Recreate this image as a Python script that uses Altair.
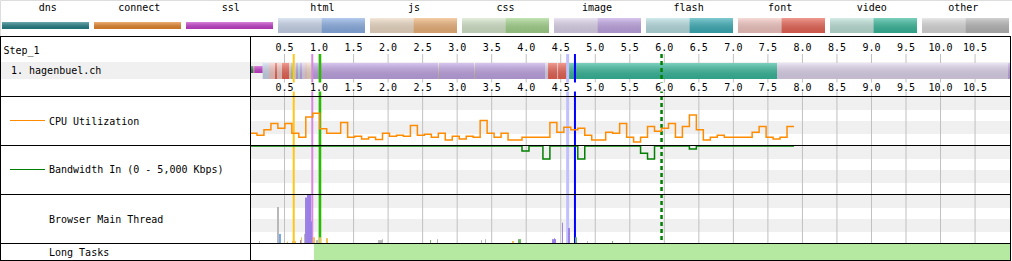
import altair as alt
import pandas as pd

FONT = "DejaVu Sans Mono"

# ---------------- data ----------------
legend_types = ["dns", "connect", "ssl", "html", "js", "css", "image", "flash", "font", "video", "other"]
solid_types = ["dns", "connect", "ssl"]

tick_times = [0.5, 1.0, 1.5, 2.0, 2.5, 3.0, 3.5, 4.0, 4.5, 5.0, 5.5, 6.0, 6.5, 7.0, 7.5, 8.0, 8.5, 9.0, 9.5, 10.0, 10.5]
tick_labels = ["0.5", "1.0", "1.5", "2.0", "2.5", "3.0", "3.5", "4.0", "4.5", "5.0", "5.5", "6.0", "6.5", "7.0", "7.5", "8.0", "8.5", "9.0", "9.5", "10.0", "10.5"]

step_name = "Step_1"
request_name = "1. hagenbuel.ch"

phase_names = ["dns", "connect", "ssl"]
phase_start = [0.0, 0.048, 0.062]
phase_end = [0.048, 0.062, 0.184]

seg_start = [0.184, 0.275, 0.362, 0.391, 0.463, 0.565, 0.594, 0.623, 0.666, 0.695, 0.724, 0.753, 0.797, 0.825,
             0.898, 2.723, 3.244, 4.272, 4.316, 4.446, 4.461, 4.591, 7.632, 10.978]
seg_end = [0.275, 0.362, 0.391, 0.463, 0.565, 0.594, 0.623, 0.666, 0.695, 0.724, 0.753, 0.797, 0.825, 0.898,
           4.272, 2.737, 3.258, 4.316, 4.446, 4.461, 4.591, 7.632, 10.978, 11.006]
seg_type = ["html", "font", "font", "font", "font", "font", "css", "image", "image", "flash", "image", "image", "font", "js",
            "image", "js", "js", "image", "font", "font", "font", "video", "image", "image"]
seg_part = ["light", "light", "dark", "light", "dark", "light", "dark", "light", "dark", "light", "dark", "light", "light", "light",
            "dark", "light", "light", "light", "dark", "light", "dark", "dark", "light", "dark"]

marker_names = ["dom_interactive", "dom_content_loaded", "start_render", "on_load", "doc_complete", "lcp"]
marker_times = [0.633, 0.902, 1.014, 4.600, 4.706, 5.960]

cpu_step = 0.101
cpu_values = [24, 20, 31, 44, 34, 44, 24, 16, 57, 65, 33, 24, 24, 46, 16, 18, 12, 16, 11, 24,
              18, 20, 18, 40, 20, 22, 16, 24, 10, 18, 12, 18, 16, 50, 24, 16, 24, 10, 10, 16,
              16, 16, 16, 46, 26, 36, 31, 34, 20, 10, 10, 26, 24, 44, 16, 6, 16, 38, 28, 34,
              44, 16, 38, 61, 31, 10, 16, 20, 16, 16, 16, 16, 26, 38, 16, 12, 16, 38]
bw_values = [4900, 4900, 4900, 4900, 4900, 4900, 4900, 4900, 4900, 4900, 4900, 4900, 4900, 4900, 4900, 4900, 4900, 4900, 4900, 4900,
             4900, 4900, 4900, 4900, 4900, 4900, 4900, 4900, 4900, 4900, 4900, 4900, 4900, 4900, 4900, 4900, 4900, 4900, 4900, 4390,
             4900, 4900, 3570, 4900, 4900, 4900, 4900, 3570, 4900, 4900, 4900, 4900, 4900, 4900, 4900, 4900, 4150, 3570, 4900, 4900,
             4900, 4900, 4900, 4590, 4900, 4900, 4900, 4900, 4900, 4900, 4900, 4900, 4900, 4900, 4900, 4900, 4900, 4900]

mt_start = [0.130, 0.391, 0.420, 0.536, 0.608, 0.724, 0.738, 0.782, 0.797, 0.825, 0.883, 0.912, 0.955, 1.000, 1.100,
            1.854, 1.912, 2.607, 2.708, 3.345, 3.403, 3.794, 3.881, 4.374, 4.403, 4.519, 4.606, 4.707, 4.880, 5.243]
mt_end = [0.145, 0.420, 0.449, 0.550, 0.666, 0.753, 0.753, 0.797, 0.825, 0.883, 0.898, 0.941, 0.985, 1.030, 1.130,
          1.912, 1.926, 2.621, 2.723, 3.360, 3.418, 3.823, 3.925, 4.432, 4.417, 4.533, 4.634, 4.736, 4.895, 5.257]
mt_height = [0.04, 0.75, 0.19, 0.03, 0.04, 0.06, 0.12, 0.19, 0.95, 1.00, 0.45, 0.12, 0.06, 0.12, 0.10,
             0.06, 0.08, 0.06, 0.08, 0.06, 0.08, 0.04, 0.08, 0.08, 0.10, 0.42, 0.31, 0.12, 0.04, 0.04]
mt_cat = ["other", "other", "loading", "scripting", "scripting", "layout", "scripting", "other", "layout", "layout", "layout",
          "scripting", "other", "scripting", "scripting", "other", "other", "painting", "other", "other", "other", "scripting",
          "painting", "layout", "layout", "layout", "layout", "painting", "other", "painting"]

long_task_start = [0.927]
long_task_end = [11.006]

section_labels = ["CPU Utilization", "Bandwidth In (0 - 5,000 Kbps)", "Browser Main Thread", "Long Tasks"]

# ---------------- styles ----------------
light_colors = {"dns": "#237f86", "connect": "#e8862a", "ssl": "#c63fcc", "html": "#cbd9ee", "js": "#efdcc6",
                "css": "#d6e8cc", "image": "#e0d6ee", "flash": "#b8e0e4", "font": "#f5c8c3", "video": "#bee4da",
                "other": "#dcdcdc"}
dark_colors = {"dns": "#237f86", "connect": "#e8862a", "ssl": "#c63fcc", "html": "#8cb0e6", "js": "#f0b47a",
               "css": "#a4d68c", "image": "#c2a6e6", "flash": "#3cafb9", "font": "#eb6455", "video": "#37b99b",
               "other": "#b9b9b9"}
marker_style = {
    "dom_interactive": ("#ffc61a", 2, None),
    "dom_content_loaded": ("#d888df", 2, None),
    "start_render": ("#28bc00", 2.5, None),
    "on_load": ("#c0c0ff", 3, None),
    "doc_complete": ("#0000ff", 2, None),
    "lcp": ("#008000", 2.5, [4, 3]),
}
mt_colors = {"loading": "#7aa7e8", "scripting": "#f2c14e", "layout": "#9b7fe6", "painting": "#71b363", "other": "#b8b8b8"}

T_MAX = 11.035


def tx(field, **kw):
    return alt.X(field, type="quantitative", scale=alt.Scale(domain=[0, T_MAX], range=[250, 1012]), axis=None, **kw)


def px(field):
    return alt.X(field, type="quantitative", scale=None, axis=None)


def py(field):
    return alt.Y(field, type="quantitative", scale=None, axis=None)


gradient = alt.LinearGradient(
    gradient="linear",
    stops=[alt.GradientStop(color="rgba(255,255,255,0.35)", offset=0),
           alt.GradientStop(color="rgba(0,0,0,0.13)", offset=1)],
    x1=0, x2=0, y1=0, y2=1)

layers = []

# backgrounds (row shading and section bands)
bg = pd.DataFrame({
    "x": [1, 251, 251, 251, 251, 251, 251],
    "x2": [1010, 1010, 1010, 1010, 1010, 1010, 1010],
    "y": [62, 97, 121, 146, 170, 195, 219],
    "y2": [79, 110, 134, 159, 183, 208, 232],
})
layers.append(alt.Chart(bg).mark_rect(color="#f0f0f0").encode(
    x=px("x"), x2="x2", y=py("y"), y2="y2"))

# gridlines
ticks = pd.DataFrame({"t": tick_times, "label": tick_labels})
layers.append(alt.Chart(ticks).mark_rule(color="#c0c0c0", strokeWidth=1).encode(
    x=tx("t"), y=alt.value(54), y2=alt.value(243)))

# connection phases (thin) and content segments
phases = pd.DataFrame({"name": phase_names, "s": phase_start, "e": phase_end})
phases["key"] = phases["name"] + "-light"
seg = pd.DataFrame({"s": seg_start, "e": seg_end, "type": seg_type, "part": seg_part})
seg["key"] = seg["type"] + "-" + seg["part"]
keys = [t + "-light" for t in legend_types] + [t + "-dark" for t in legend_types]
key_colors = [light_colors[t] for t in legend_types] + [dark_colors[t] for t in legend_types]
cscale = alt.Scale(domain=keys, range=key_colors)

layers.append(alt.Chart(phases).mark_rect().encode(
    x=tx("s"), x2="e", y=alt.value(66), y2=alt.value(73),
    color=alt.Color("key:N", scale=cscale, legend=None)))
layers.append(alt.Chart(phases).mark_rect(color=gradient).encode(
    x=tx("s"), x2="e", y=alt.value(66), y2=alt.value(73)))
layers.append(alt.Chart(seg).mark_rect().encode(
    x=tx("s"), x2="e", y=alt.value(63), y2=alt.value(79),
    color=alt.Color("key:N", scale=cscale, legend=None)))
layers.append(alt.Chart(seg).mark_rect(color=gradient).encode(
    x=tx("s"), x2="e", y=alt.value(63), y2=alt.value(79)))

# event markers
markers = pd.DataFrame({"name": marker_names, "t": marker_times})
for name in marker_names:
    col, w, dash = marker_style[name]
    kw = dict(color=col, strokeWidth=w)
    if dash:
        kw["strokeDash"] = dash
    layers.append(alt.Chart(markers).transform_filter(alt.datum.name == name).mark_rule(**kw).encode(
        x=tx("t"), y=alt.value(54), y2=alt.value(243)))

# white strip behind bottom tick labels
gap = pd.DataFrame({"x": [251], "x2": [1010], "y": [82.5], "y2": [91.5]})
layers.append(alt.Chart(gap).mark_rect(color="white").encode(x=px("x"), x2="x2", y=py("y"), y2="y2"))

# tick labels
for yb in (51, 90.5):
    layers.append(alt.Chart(ticks).mark_text(font=FONT, fontSize=10, align="center", baseline="alphabetic",
                                             color="black").encode(
        x=tx("t"), y=alt.value(yb), text="label:N"))

# CPU line
cpu_df = pd.DataFrame({"t": [i * cpu_step for i in range(len(cpu_values) + 1)],
                       "v": cpu_values + [cpu_values[-1]]})
layers.append(alt.Chart(cpu_df).mark_line(color="#ff8c00", strokeWidth=1.5, interpolate="step-after").encode(
    x=tx("t"), y=alt.Y("v:Q", scale=alt.Scale(domain=[0, 100], range=[145, 96]), axis=None)))

# Bandwidth line
bw_df = pd.DataFrame({"t": [i * cpu_step for i in range(len(bw_values) + 1)],
                      "v": bw_values + [bw_values[-1]]})
layers.append(alt.Chart(bw_df).mark_line(color="#008000", strokeWidth=1.5, interpolate="step-after").encode(
    x=tx("t"), y=alt.Y("v:Q", scale=alt.Scale(domain=[0, 5000], range=[194, 145]), axis=None)))

# Main thread activity
mt = pd.DataFrame({"s": mt_start, "e": mt_end, "h": mt_height, "cat": mt_cat})
layers.append(alt.Chart(mt).mark_rect().encode(
    x=tx("s"), x2="e",
    y=alt.Y("h:Q", scale=alt.Scale(domain=[0, 1], range=[243, 195]), axis=None), y2=alt.datum(0),
    color=alt.Color("cat:N", scale=alt.Scale(domain=list(mt_colors), range=list(mt_colors.values())), legend=None)))

# Long tasks
lt = pd.DataFrame({"s": long_task_start, "e": long_task_end})
layers.append(alt.Chart(lt).mark_rect(color="#b5e8a0").encode(
    x=tx("s"), x2="e", y=alt.value(244), y2=alt.value(260)))

# legend
leg_x = alt.X("type:N", sort=legend_types,
              scale=alt.Scale(domain=legend_types, range=[2, 1009], paddingInner=5 / 92, paddingOuter=0), axis=None)
leg_rows = []
for t in legend_types:
    if t in solid_types:
        leg_rows.append({"type": t, "part": "light", "key": t + "-light"})
    else:
        leg_rows.append({"type": t, "part": "light", "key": t + "-light"})
        leg_rows.append({"type": t, "part": "dark", "key": t + "-dark"})
leg = pd.DataFrame(leg_rows)
leg_names = pd.DataFrame({"type": legend_types})
leg_solid = leg[leg["type"].isin(solid_types)]
leg_split = leg[~leg["type"].isin(solid_types)]

layers.append(alt.Chart(leg_solid).mark_bar().encode(
    x=leg_x, y=alt.value(22), y2=alt.value(29),
    color=alt.Color("key:N", scale=cscale, legend=None)))
layers.append(alt.Chart(leg_solid).mark_bar(color=gradient).encode(
    x=leg_x, y=alt.value(22), y2=alt.value(29)))
layers.append(alt.Chart(leg_split).mark_bar().encode(
    x=leg_x,
    xOffset=alt.XOffset("part:N", sort=["light", "dark"], scale=alt.Scale(domain=["light", "dark"], paddingInner=0)),
    y=alt.value(18), y2=alt.value(33),
    color=alt.Color("key:N", scale=cscale, legend=None)))
layers.append(alt.Chart(leg_names[~leg_names["type"].isin(solid_types)]).mark_bar(color=gradient).encode(
    x=leg_x, y=alt.value(18), y2=alt.value(33)))
layers.append(alt.Chart(leg_names).mark_text(font=FONT, fontSize=10, align="center", baseline="alphabetic",
                                              color="black").encode(
    x=leg_x, y=alt.value(11), text="type:N"))

# left column texts
left_txt = pd.DataFrame({
    "text": [step_name, request_name] + section_labels,
    "x": [3.5, 11, 49, 49, 49, 49],
    "y": [53.5, 73.5, 124.5, 173, 222.7, 256],
})
layers.append(alt.Chart(left_txt).mark_text(font=FONT, fontSize=10, align="left", baseline="alphabetic",
                                             color="black").encode(
    x=px("x"), y=py("y"), text="text:N"))

# left legend lines
cpu_key = pd.DataFrame({"x": [10], "x2": [45], "y": [120.5]})
bw_key = pd.DataFrame({"x": [10], "x2": [45], "y": [169.5]})
layers.append(alt.Chart(cpu_key).mark_rule(strokeWidth=1, color="#ff8c00").encode(
    x=px("x"), x2="x2", y=py("y")))
layers.append(alt.Chart(bw_key).mark_rule(strokeWidth=1, color="#008000").encode(
    x=px("x"), x2="x2", y=py("y")))

# borders
borders = pd.DataFrame({
    "x": [0, 0, 0, 0, 0, 0, 0.5, 250.5, 1010.5],
    "x2": [1011, 1011, 1011, 1011, 1011, 1011, 0.5, 250.5, 1010.5],
    "y": [36.5, 96.5, 145.5, 194.5, 243.5, 260.5, 36, 36, 36],
    "y2": [36.5, 96.5, 145.5, 194.5, 243.5, 260.5, 261, 261, 261],
})
layers.append(alt.Chart(borders).mark_rule(color="black", strokeWidth=1).encode(
    x=px("x"), x2="x2", y=py("y"), y2="y2"))

chart = alt.layer(*layers).resolve_scale(
    x="independent", y="independent", color="independent"
).properties(
    width=1012, height=261, padding=0, autosize="none"
).configure_view(strokeWidth=0).configure(background="white")

chart.save("out.html", embed_options={"renderer": "svg", "actions": False})
